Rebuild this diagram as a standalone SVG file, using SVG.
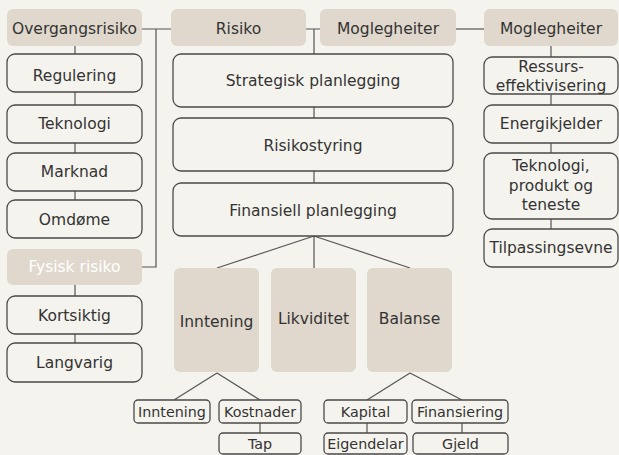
<svg xmlns="http://www.w3.org/2000/svg" width="619" height="455" viewBox="0 0 619 455">
<style>
.bg{fill:#f5f3ee}
.box{fill:#f5f3ee;stroke:#4a4a4a;stroke-width:1.3}
.fill{fill:#e0d8cc}
.t{font-family:"DejaVu Sans",sans-serif;font-size:15.5px;fill:#333;text-anchor:middle;dominant-baseline:central}
.s{font-size:14.3px}
.w{fill:#ffffff}
.c{stroke:#555;stroke-width:1.2;fill:none}
</style>
<rect class="bg" x="0" y="0" width="619" height="455"/>
<g id="connectors">
<path class="c" d="M142,29H171M156,29V267H142"/>
<path class="c" d="M306,29H320M314,29V54"/>
<path class="c" d="M456,29H484"/>
<path class="c" d="M75,46V54M75,92V105M75,143V153M75,191V200M75,285V296M75,334V343"/>
<path class="c" d="M314,107V118M314,171V183"/>
<path class="c" d="M551,46V57M551,94V105M551,143V153M551,219V229"/>
<path class="c" d="M314,236L217,268M314,236V268M314,236L410,268"/>
<path class="c" d="M217,373L174,400M217,373L260,400M260,423V433"/>
<path class="c" d="M410,373L367,400M410,373L462,400M367,423V433M462,423V433"/>
</g>
<g id="overgangsrisiko"><rect class="fill" x="7" y="9" width="135" height="37" rx="6"/><text class="t" x="74.5" y="29">Overgangsrisiko</text></g>
<g id="risiko"><rect class="fill" x="171" y="9" width="135" height="37" rx="6"/><text class="t" x="238.5" y="29">Risiko</text></g>
<g id="moglegheiter1"><rect class="fill" x="320" y="9" width="136" height="37" rx="6"/><text class="t" x="388" y="29">Moglegheiter</text></g>
<g id="moglegheiter2"><rect class="fill" x="484" y="9" width="134" height="37" rx="6"/><text class="t" x="551" y="29">Moglegheiter</text></g>
<g id="regulering"><rect class="box" x="7" y="54" width="135" height="38" rx="8"/><text class="t" x="74.5" y="75.5">Regulering</text></g>
<g id="teknologi"><rect class="box" x="7" y="105" width="135" height="38" rx="8"/><text class="t" x="74.5" y="124">Teknologi</text></g>
<g id="marknad"><rect class="box" x="7" y="153" width="135" height="38" rx="8"/><text class="t" x="74.5" y="172">Marknad</text></g>
<g id="omdome"><rect class="box" x="7" y="200" width="135" height="38" rx="8"/><text class="t" x="74.5" y="219.5">Omdøme</text></g>
<g id="fysisk"><rect class="fill" x="7" y="249" width="135" height="36" rx="6"/><text class="t w" x="74.5" y="267">Fysisk risiko</text></g>
<g id="kortsiktig"><rect class="box" x="7" y="296" width="135" height="38" rx="8"/><text class="t" x="74.5" y="315.5">Kortsiktig</text></g>
<g id="langvarig"><rect class="box" x="7" y="343" width="135" height="39" rx="8"/><text class="t" x="74.5" y="362.5">Langvarig</text></g>
<g id="strategisk"><rect class="box" x="173" y="54" width="280" height="53" rx="8"/><text class="t" x="313" y="81">Strategisk planlegging</text></g>
<g id="risikostyring"><rect class="box" x="173" y="118" width="280" height="53" rx="8"/><text class="t" x="313" y="146">Risikostyring</text></g>
<g id="finansiell"><rect class="box" x="173" y="183" width="280" height="53" rx="8"/><text class="t" x="313" y="211">Finansiell planlegging</text></g>
<g id="inntening"><rect class="fill" x="174" y="268" width="85" height="104" rx="6"/><text class="t" x="216.5" y="322">Inntening</text></g>
<g id="likviditet"><rect class="fill" x="271" y="268" width="85" height="104" rx="6"/><text class="t" x="313.5" y="319">Likviditet</text></g>
<g id="balanse"><rect class="fill" x="367" y="268" width="85" height="104" rx="6"/><text class="t" x="409.5" y="319">Balanse</text></g>
<g id="inntening2"><rect class="box" x="134" y="400" width="76" height="23" rx="4"/><text class="t s" x="172" y="411.5">Inntening</text></g>
<g id="kostnader"><rect class="box" x="219" y="400" width="82" height="23" rx="4"/><text class="t s" x="260" y="411.5">Kostnader</text></g>
<g id="tap"><rect class="box" x="219" y="433" width="82" height="21" rx="4"/><text class="t s" x="260" y="443.5">Tap</text></g>
<g id="kapital"><rect class="box" x="324" y="400" width="83" height="23" rx="4"/><text class="t s" x="365.5" y="412">Kapital</text></g>
<g id="finansiering"><rect class="box" x="412" y="400" width="96" height="23" rx="4"/><text class="t s" x="460" y="411.5">Finansiering</text></g>
<g id="eigendelar"><rect class="box" x="324" y="433" width="83" height="21" rx="4"/><text class="t s" x="365.5" y="443.5">Eigendelar</text></g>
<g id="gjeld"><rect class="box" x="413" y="433" width="95" height="21" rx="4"/><text class="t s" x="460.5" y="443.5">Gjeld</text></g>
<g id="ressurs"><rect class="box" x="484" y="57" width="134" height="37" rx="8"/><text class="t" x="551" y="66.5">Ressurs-</text><text class="t" x="551" y="85.5">effektivisering</text></g>
<g id="energikjelder"><rect class="box" x="484" y="105" width="134" height="38" rx="8"/><text class="t" x="551" y="124">Energikjelder</text></g>
<g id="teknologi2"><rect class="box" x="484" y="153" width="134" height="66" rx="8"/><text class="t" x="551" y="166">Teknologi,</text><text class="t" x="551" y="185.5">produkt og</text><text class="t" x="551" y="204.5">teneste</text></g>
<g id="tilpassing"><rect class="box" x="484" y="229" width="134" height="38" rx="8"/><text class="t" x="551" y="248">Tilpassingsevne</text></g>
</svg>
